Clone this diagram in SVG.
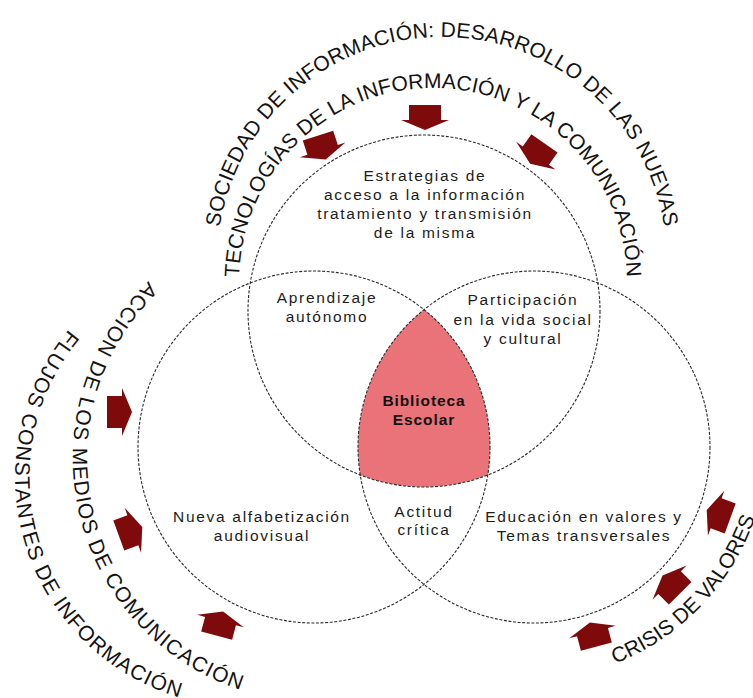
<svg xmlns="http://www.w3.org/2000/svg" width="753" height="698" viewBox="0 0 753 698">
<defs>
<style>
.c{fill:none;stroke:#2b2b2b;stroke-width:1.1;stroke-dasharray:3 1.6}
.t{font-family:"Liberation Sans",Arial,Helvetica,sans-serif;font-size:15.5px;fill:#1c1c1c;letter-spacing:1.7px;text-anchor:middle}
.b{font-weight:bold;letter-spacing:0.9px;fill:#111}
.arc{font-family:"Liberation Sans",Arial,Helvetica,sans-serif;font-size:21px;fill:#141414;text-anchor:middle}
.ar{fill:#7e0a0c}
</style>
<path id="arrow" d="M-13,-16 L2,-16 L2,-24 L12,0 L2,24 L2,16 L-13,16 Z"/>
<path id="pTopOuter" d="M230.6,339 A225,225 0 1 1 653.4,339"/>
<path id="pTopInner" d="M250.7,348.4 A194,194 0 1 1 615.3,348.4"/>
<path id="pLeftInner" d="M283.9,216.3 A244,244 0 1 0 391.6,690.3"/>
<path id="pLeftOuter" d="M197.8,251.9 A230,230 0 1 0 330.6,690.5"/>
<path id="pRight" d="M470.5,673 A240,240 0 0 0 758.5,373.2"/>
</defs>
<rect width="753" height="698" fill="#ffffff"/>

<g id="biblioteca-escolar">
<path d="M424,309.6 A176,176 0 0 0 360.25,475.05 A176,176 0 0 0 487.75,475.05 A176,176 0 0 0 424,309.6 Z" fill="#ea7279"/>
<text class="t b" x="424" y="406">Biblioteca</text>
<text class="t b" x="424" y="425">Escolar</text>
</g>

<g id="circle-top">
<circle class="c" cx="424" cy="311" r="176"/>
<text class="t" x="425" y="181">Estrategias de</text>
<text class="t" x="425" y="200">acceso a la información</text>
<text class="t" x="425" y="219">tratamiento y transmisión</text>
<text class="t" x="425" y="238">de la misma</text>
</g>

<g id="circle-left">
<circle class="c" cx="314" cy="447" r="176"/>
<text class="t" x="262" y="522">Nueva alfabetización</text>
<text class="t" x="262" y="541">audiovisual</text>
</g>

<g id="circle-right">
<circle class="c" cx="534" cy="447" r="176"/>
<text class="t" x="584" y="522">Educación en valores y</text>
<text class="t" x="584" y="541">Temas transversales</text>
</g>

<g id="aprendizaje">
<text class="t" x="327" y="303">Aprendizaje</text>
<text class="t" x="327" y="322">autónomo</text>
</g>

<g id="participacion">
<text class="t" x="523" y="305">Participación</text>
<text class="t" x="523" y="325">en la vida social</text>
<text class="t" x="523" y="344">y cultural</text>
</g>

<g id="actitud">
<text class="t" x="424" y="517">Actitud</text>
<text class="t" x="424" y="535">crítica</text>
</g>

<g id="influencias">
<text class="arc" letter-spacing="0.2"><textPath href="#pTopOuter" startOffset="50%">SOCIEDAD DE INFORMACIÓN: DESARROLLO DE LAS NUEVAS</textPath></text>
<text class="arc" letter-spacing="0.1"><textPath href="#pTopInner" startOffset="50%">TECNOLOGÍAS DE LA INFORMACIÓN Y LA COMUNICACIÓN</textPath></text>
<text class="arc" letter-spacing="1.2"><textPath href="#pLeftInner" startOffset="50%">ACCION DE LOS MEDIOS DE COMUNICACIÓN</textPath></text>
<text class="arc" letter-spacing="1.15"><textPath href="#pLeftOuter" startOffset="50%">FLUJOS CONSTANTES DE INFORMACIÓN</textPath></text>
<text class="arc"><textPath href="#pRight" startOffset="50%">CRISIS DE VALORES</textPath></text>
</g>

<g id="connectors">
<use href="#arrow" class="ar" transform="translate(425,118) rotate(90)"/>
<use href="#arrow" class="ar" transform="translate(322,148) rotate(72)"/>
<use href="#arrow" class="ar" transform="translate(537,154) rotate(125)"/>
<use href="#arrow" class="ar" transform="translate(120,412) rotate(0)"/>
<use href="#arrow" class="ar" transform="translate(131,531) rotate(-20)"/>
<use href="#arrow" class="ar" transform="translate(220,623) rotate(-75)"/>
<use href="#arrow" class="ar" transform="translate(718,514) rotate(200)"/>
<use href="#arrow" class="ar" transform="translate(671,584) rotate(225)"/>
<use href="#arrow" class="ar" transform="translate(593,634) rotate(255)"/>
</g>
</svg>
